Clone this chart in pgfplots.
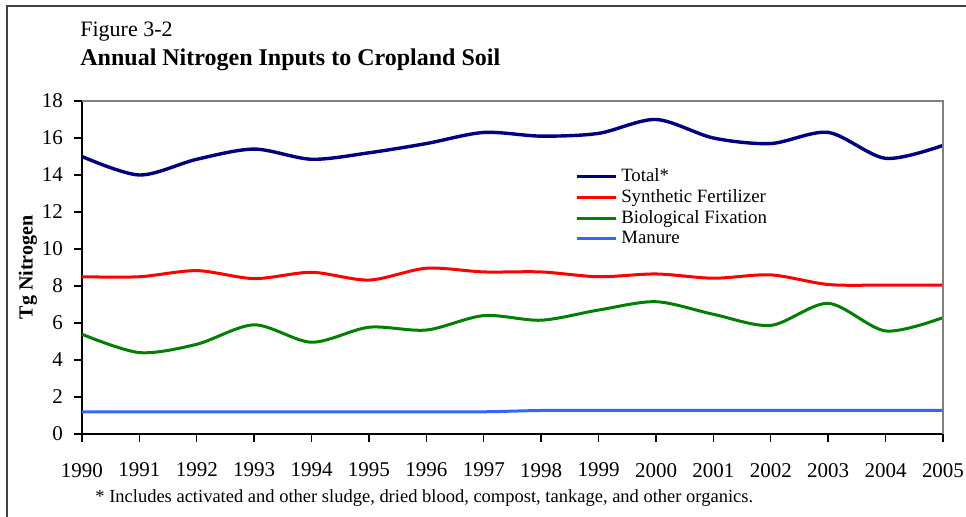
\documentclass[border=0pt]{standalone}
\usepackage{pgfplots}
\pgfplotsset{compat=1.18}
\usepackage{fontspec}
\setmainfont{Liberation Serif}

\definecolor{totalc}{RGB}{0,0,128}
\definecolor{sync}{RGB}{255,0,0}
\definecolor{bioc}{RGB}{0,128,0}
\definecolor{manc}{RGB}{51,102,255}
\definecolor{framec}{RGB}{64,64,64}

\begin{document}
\begin{tikzpicture}
\useasboundingbox[fill=white] (-41pt,-41.5pt) rectangle (442pt,217pt);
% outer figure frame (only top and left fall inside the picture)
\draw[line width=1.1pt, framec] (-37.5pt,-60pt) -- (-37.5pt,214pt) -- (460pt,214pt);

\begin{axis}[
  scale only axis,
  width=430.5pt, height=166.5pt,
  xmin=1990, xmax=2005,
  ymin=0, ymax=18,
  xtick={1990,1991,...,2005},
  ytick={0,2,...,18},
  axis x line*=bottom,
  axis y line*=left,
  axis line style={-, line width=0.7pt, black},
  tick align=outside,
  major tick length=4pt,
  tick style={line width=0.7pt, black},
  /pgf/number format/1000 sep={},
  /pgf/number format/assume math mode=true,
  ticklabel style={font=\fontsize{10.5}{12}\selectfont},
  xticklabel style={yshift=-7pt},
  yticklabel style={xshift=-2pt},
  ylabel={\textbf{Tg Nitrogen}},
  ylabel style={font=\fontsize{10}{12}\selectfont, at={(axis description cs:0,0.5)}, yshift=27pt, anchor=center},
  legend cell align=left,
  legend style={draw=none, fill=none, at={(axis cs:1998.58,14.6)}, anchor=north west,
    font=\fontsize{9.4}{10.25}\selectfont, row sep=-1.6pt, inner sep=0pt,
    /tikz/every even column/.append style={column sep=3pt}},
  legend image code/.code={\draw[#1] (0pt,0pt) -- (19.5pt,0pt);},
  every axis plot/.append style={smooth, tension=0.5, line width=1.5pt, mark=none},
  clip=false,
]
\addplot[totalc, line width=1.7pt] coordinates {
  (1990,15.0) (1991,14.0) (1992,14.85) (1993,15.4) (1994,14.85) (1995,15.2)
  (1996,15.7) (1997,16.3) (1998,16.1) (1999,16.25) (2000,17.0) (2001,16.0)
  (2002,15.7) (2003,16.3) (2004,14.9) (2005,15.6)
};
\addplot[sync] coordinates {
  (1990,8.5) (1991,8.5) (1992,8.83) (1993,8.4) (1994,8.74) (1995,8.32)
  (1996,8.96) (1997,8.76) (1998,8.76) (1999,8.5) (2000,8.65) (2001,8.42)
  (2002,8.6) (2003,8.08) (2004,8.05) (2005,8.05)
};
\addplot[bioc] coordinates {
  (1990,5.39) (1991,4.4) (1992,4.85) (1993,5.9) (1994,4.96) (1995,5.77)
  (1996,5.62) (1997,6.4) (1998,6.15) (1999,6.7) (2000,7.15) (2001,6.47)
  (2002,5.87) (2003,7.06) (2004,5.57) (2005,6.29)
};
\addplot[manc] coordinates {
  (1990,1.2) (1991,1.2) (1992,1.2) (1993,1.2) (1994,1.2) (1995,1.2)
  (1996,1.2) (1997,1.2) (1998,1.27) (1999,1.27) (2000,1.27) (2001,1.27)
  (2002,1.27) (2003,1.27) (2004,1.27) (2005,1.27)
};
\legend{Total*, Synthetic Fertilizer, Biological Fixation, Manure}
% gray top and right plot-area border
\draw[line width=1pt, gray] (rel axis cs:0,1) -- (rel axis cs:1,1) -- (rel axis cs:1,0);
\end{axis}

\node[anchor=base west, font=\fontsize{11}{13}\selectfont, inner sep=0pt] at (-1pt,198.75pt) {Figure 3-2};
\node[anchor=base west, font=\fontsize{12}{14}\selectfont\bfseries, inner sep=0pt] at (-1pt,184.2pt) {Annual Nitrogen Inputs to Cropland Soil};
\node[anchor=base west, font=\fontsize{9.25}{11}\selectfont, inner sep=0pt] at (6.5pt,-34.3pt) {* Includes activated and other sludge, dried blood, compost, tankage, and other organics.};
\end{tikzpicture}
\end{document}
